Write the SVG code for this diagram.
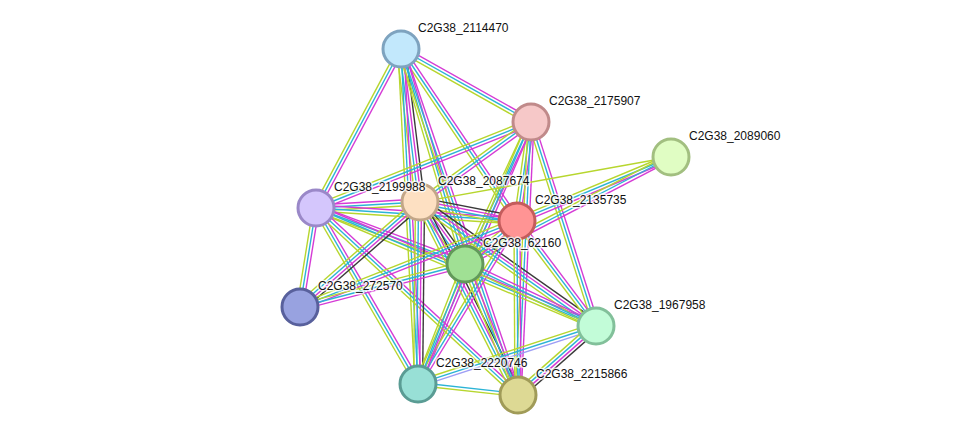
<svg xmlns="http://www.w3.org/2000/svg" xmlns:xlink="http://www.w3.org/1999/xlink" width="975" height="441" viewBox="0 0 975 441">
<style>
.k{stroke:#3a3a3a}.m{stroke:#d53bd5}.c{stroke:#2cb4d6}.y{stroke:#b7d62e}.h{stroke:#9e9ef5}
line{stroke-width:1.4;fill:none}
.n circle{stroke-width:3}
text{font-family:"Liberation Sans",Arial,sans-serif;font-size:12px;fill:#111;stroke:#fff;stroke-width:3;stroke-opacity:0.75;paint-order:stroke;stroke-linejoin:round}
</style>
<defs>
<g id="mcy"><line class="m" x2="1" y1="-3" y2="-3"/><line class="c" x2="1"/><line class="y" x2="1" y1="3" y2="3"/></g>
<g id="kmcy"><line class="k" x2="1" y1="-4.5" y2="-4.5"/><line class="m" x2="1" y1="-1.5" y2="-1.5"/><line class="c" x2="1" y1="1.5" y2="1.5"/><line class="y" x2="1" y1="4.5" y2="4.5"/></g>
<g id="hcy"><line class="h" x2="1" y1="-3" y2="-3"/><line class="c" x2="1"/><line class="y" x2="1" y1="3" y2="3"/></g>
<g id="cy"><line class="c" x2="1" y1="-1.5" y2="-1.5"/><line class="y" x2="1" y1="1.5" y2="1.5"/></g>
<g id="y1"><line class="y" x2="1"/></g>
</defs>
<rect width="975" height="441" fill="#fff"/>
<g id="edges">
<use xlink:href="#mcy" transform="translate(401,49) rotate(29.3) scale(149.1,1)"/>
<use xlink:href="#mcy" transform="translate(401,49) rotate(118.1) scale(180.3,1)"/>
<use xlink:href="#kmcy" transform="translate(401,49) rotate(82.9) scale(154.2,1)"/>
<use xlink:href="#mcy" transform="translate(401,49) rotate(56.0) scale(207.5,1)"/>
<use xlink:href="#mcy" transform="translate(401,49) rotate(73.4) scale(224.3,1)"/>
<use xlink:href="#mcy" transform="translate(401,49) rotate(87.1) scale(335.4,1)"/>
<use xlink:href="#mcy" transform="translate(401,49) rotate(71.3) scale(365.2,1)"/>
<use xlink:href="#mcy" transform="translate(531,122) rotate(158.2) scale(231.6,1)"/>
<use xlink:href="#mcy" transform="translate(531,122) rotate(144.2) scale(136.8,1)"/>
<use xlink:href="#mcy" transform="translate(531,122) rotate(98.05) scale(100,1)"/>
<use xlink:href="#mcy" transform="translate(531,122) rotate(114.9) scale(156.6,1)"/>
<use xlink:href="#mcy" transform="translate(531,122) rotate(72.3) scale(214.1,1)"/>
<use xlink:href="#mcy" transform="translate(531,122) rotate(113.3) scale(285.3,1)"/>
<use xlink:href="#mcy" transform="translate(531,122) rotate(92.7) scale(273.3,1)"/>
<use xlink:href="#y1" transform="translate(671,157) rotate(169.8) scale(255,1)"/>
<use xlink:href="#mcy" transform="translate(671,157) rotate(157.4) scale(166.8,1)"/>
<use xlink:href="#mcy" transform="translate(671,157) rotate(152.6) scale(232.1,1)"/>
<use xlink:href="#mcy" transform="translate(316,208) rotate(-3.3) scale(104.2,1)"/>
<use xlink:href="#mcy" transform="translate(316,208) rotate(3.7) scale(201.4,1)"/>
<use xlink:href="#mcy" transform="translate(316,208) rotate(20.6) scale(159.2,1)"/>
<use xlink:href="#mcy" transform="translate(316,208) rotate(99.2) scale(100.3,1)"/>
<use xlink:href="#mcy" transform="translate(316,208) rotate(22.9) scale(303.8,1)"/>
<use xlink:href="#mcy" transform="translate(316,208) rotate(59.9) scale(203.4,1)"/>
<use xlink:href="#mcy" transform="translate(316,208) rotate(42.8) scale(275.3,1)"/>
<use xlink:href="#kmcy" transform="translate(420,202) rotate(11.1) scale(98.8,1)"/>
<use xlink:href="#kmcy" transform="translate(420,202) rotate(54.0) scale(76.6,1)"/>
<use xlink:href="#kmcy" transform="translate(420,202) rotate(138.8) scale(159.5,1)"/>
<use xlink:href="#kmcy" transform="translate(420,202) rotate(35.2) scale(215.3,1)"/>
<use xlink:href="#kmcy" transform="translate(420,202) rotate(90.6) scale(182,1)"/>
<use xlink:href="#kmcy" transform="translate(420,202) rotate(63.1) scale(216.5,1)"/>
<use xlink:href="#mcy" transform="translate(517,221) rotate(140.4) scale(67.5,1)"/>
<use xlink:href="#mcy" transform="translate(517,221) rotate(158.4) scale(233.4,1)"/>
<use xlink:href="#mcy" transform="translate(517,221) rotate(53.0) scale(131.4,1)"/>
<use xlink:href="#mcy" transform="translate(517,221) rotate(121.3) scale(190.7,1)"/>
<use xlink:href="#mcy" transform="translate(517,221) rotate(89.7) scale(174,1)"/>
<use xlink:href="#mcy" transform="translate(465,264) rotate(165.4) scale(170.5,1)"/>
<use xlink:href="#mcy" transform="translate(465,264) rotate(25.3) scale(144.9,1)"/>
<use xlink:href="#mcy" transform="translate(465,264) rotate(111.4) scale(128.9,1)"/>
<use xlink:href="#mcy" transform="translate(465,264) rotate(68.0) scale(141.3,1)"/>
<use xlink:href="#hcy" transform="translate(596,326) rotate(162.0) scale(187.2,1)"/>
<use xlink:href="#kmcy" transform="translate(596,326) rotate(138.5) scale(104.1,1)"/>
<use xlink:href="#cy" transform="translate(418,384) rotate(6.3) scale(100.6,1)"/>
</g>
<g id="n2114470" class="n"><circle cx="401" cy="49" r="18" fill="#c2e8fc" stroke="#7ea3bf"/></g>
<g id="n2175907" class="n"><circle cx="531" cy="122" r="18" fill="#f6c8c8" stroke="#c08a8a"/></g>
<g id="n2089060" class="n"><circle cx="671" cy="157" r="18" fill="#e0fdc3" stroke="#a2bf80"/></g>
<g id="n2199988" class="n"><circle cx="316" cy="208" r="18" fill="#d4c6fc" stroke="#9a88c8"/></g>
<g id="n2087674" class="n"><circle cx="420" cy="202" r="18" fill="#fde0c2" stroke="#c2a688"/></g>
<g id="n2135735" class="n"><circle cx="517" cy="221" r="18" fill="#ff9494" stroke="#c45c5c"/></g>
<g id="n62160" class="n"><circle cx="465" cy="264" r="18" fill="#a0e094" stroke="#62995a"/></g>
<g id="n272570" class="n"><circle cx="300" cy="307" r="18" fill="#98a2e0" stroke="#58609c"/></g>
<g id="n1967958" class="n"><circle cx="596" cy="326" r="18" fill="#c2fcd8" stroke="#82c09a"/></g>
<g id="n2220746" class="n"><circle cx="418" cy="384" r="18" fill="#98e0d6" stroke="#5a9c94"/></g>
<g id="n2215866" class="n"><circle cx="518" cy="395" r="18" fill="#ddd994" stroke="#a09b58"/></g>
<g id="labels">
<text x="418" y="32">C2G38_2114470</text>
<text x="549" y="105">C2G38_2175907</text>
<text x="689" y="140">C2G38_2089060</text>
<text x="334" y="191">C2G38_2199988</text>
<text x="438" y="185">C2G38_2087674</text>
<text x="535" y="204">C2G38_2135735</text>
<text x="483" y="247">C2G38_62160</text>
<text x="318" y="290">C2G38_272570</text>
<text x="614" y="309">C2G38_1967958</text>
<text x="436" y="367">C2G38_2220746</text>
<text x="536" y="378">C2G38_2215866</text>
</g>
</svg>
